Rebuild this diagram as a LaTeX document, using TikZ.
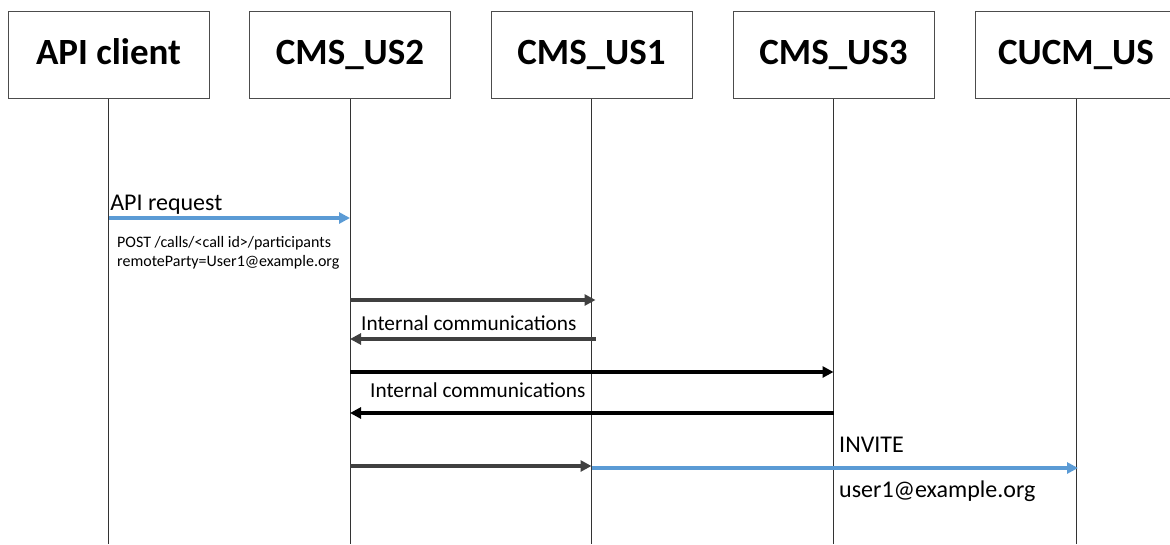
\documentclass[tikz,border=0pt]{standalone}
\usepackage{fontspec}
\setmainfont{Carlito}
\usetikzlibrary{arrows.meta}
\definecolor{msgblue}{HTML}{5B9BD5}
\definecolor{msggray}{HTML}{404040}

\begin{document}
\begin{tikzpicture}[x=1pt,y=-1pt,
  actor/.style={draw=black!70,line width=1pt,minimum width=201pt,minimum height=87pt,text height=26pt,text depth=6pt,font=\fontsize{37}{40}\selectfont\bfseries,inner sep=0pt},
  life/.style={draw=black!80,line width=0.8pt},
  msg/.style={line width=3.5pt,-{Triangle[length=11pt,width=11pt]}},
  lbl/.style={anchor=west,inner sep=0pt,text=black,font=\fontsize{24}{26}\selectfont},
  small/.style={anchor=west,inner sep=0pt,align=left,font=\fontsize{16}{19.5}\selectfont},
  mid/.style={anchor=west,inner sep=0pt,font=\fontsize{21.3}{24}\selectfont}]
\useasboundingbox (0,0) rectangle (1170,544);
\node[actor] (api) at (108.5,54.5) {API client}; \node[actor] (us2) at (350,54.5) {CMS\_US2};
\node[actor] (us1) at (591.5,54.5) {CMS\_US1}; \node[actor] (us3) at (833.5,54.5) {CMS\_US3};
\node[actor] (cucm) at (1076,54.5) {CUCM\_US};
\foreach \n in {api,us2,us1,us3,cucm} \draw[life] (\n.south) -- (\n.south |- 0,544);
\draw[msg,msgblue] (api.south |- 0,218) -- (us2.south |- 0,218) node[lbl,pos=0,above=2pt,anchor=south west] {API request};
\node[small] (post) at (117,253) {POST /calls/{\textless}call id{\textgreater}/participants\\remoteParty=User1@example.org};
\draw[msg,msggray] (us2.south |- 0,300) -- ([xshift=4pt]us1.south |- 0,300);
\node[mid] (int1) at (361,323) {Internal communications};
\draw[msg,msggray] ([xshift=4pt]us1.south |- 0,339) -- (us2.south |- 0,339);
\draw[msg,black] (us2.south |- 0,372) -- (us3.south |- 0,372);
\node[mid] (int2) at (370,390) {Internal communications};
\draw[msg,black] (us3.south |- 0,413) -- (us2.south |- 0,413);
\draw[msg,msggray] (us2.south |- 0,466) -- (us1.south |- 0,466);
\draw[msg,msgblue] (us1.south |- 0,468) -- ([xshift=2pt]cucm.south |- 0,468);
\node[lbl] (inv) at (839,445) {INVITE};
\node[lbl] (uri) at (839,491) {user1@example.org};
\end{tikzpicture}
\end{document}
